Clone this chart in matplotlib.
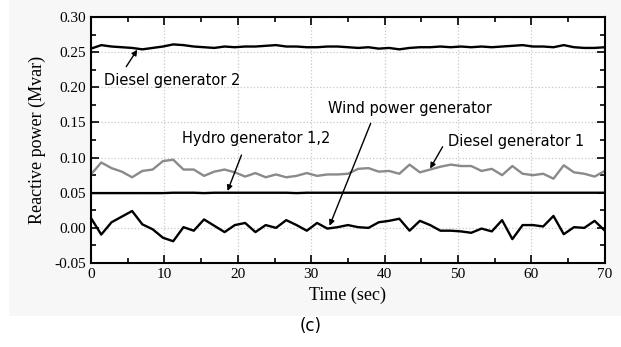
import numpy as np
import matplotlib.pyplot as plt
from matplotlib.patches import Rectangle
from matplotlib.ticker import MultipleLocator

# time samples (sec)
time = [0, 1.4, 2.8, 4.2, 5.6, 7.0, 8.4, 9.8, 11.2, 12.6, 14.0, 15.4, 16.8, 18.2,
        19.6, 21.0, 22.4, 23.8, 25.2, 26.6, 28.0, 29.4, 30.8, 32.2, 33.6, 35.0,
        36.4, 37.8, 39.2, 40.6, 42.0, 43.4, 44.8, 46.2, 47.6, 49.0, 50.4, 51.8,
        53.2, 54.6, 56.0, 57.4, 58.8, 60.2, 61.6, 63.0, 64.4, 65.8, 67.2, 68.6, 70.0]

diesel2 = [0.255, 0.260, 0.258, 0.257, 0.256, 0.254, 0.256, 0.258, 0.261, 0.260,
           0.258, 0.257, 0.256, 0.258, 0.257, 0.258, 0.258, 0.259, 0.260, 0.258,
           0.258, 0.257, 0.257, 0.258, 0.258, 0.257, 0.256, 0.257, 0.255, 0.256,
           0.254, 0.256, 0.257, 0.257, 0.258, 0.257, 0.258, 0.257, 0.258, 0.257,
           0.258, 0.259, 0.260, 0.258, 0.258, 0.257, 0.260, 0.257, 0.256, 0.256, 0.257]

diesel1 = [0.076, 0.093, 0.085, 0.080, 0.072, 0.081, 0.083, 0.095, 0.097, 0.083,
           0.083, 0.074, 0.080, 0.083, 0.079, 0.073, 0.078, 0.072, 0.076, 0.072,
           0.074, 0.078, 0.074, 0.076, 0.076, 0.077, 0.084, 0.085, 0.080, 0.081,
           0.077, 0.090, 0.079, 0.083, 0.087, 0.090, 0.088, 0.088, 0.081, 0.084,
           0.075, 0.088, 0.077, 0.075, 0.077, 0.070, 0.089, 0.079, 0.077, 0.073, 0.081]

hydro = [0.0495, 0.0495, 0.0495, 0.0495, 0.0495, 0.0495, 0.0495, 0.0495, 0.050, 0.050,
         0.050, 0.0495, 0.050, 0.050, 0.050, 0.050, 0.050, 0.050, 0.050, 0.050,
         0.0495, 0.050, 0.050, 0.050, 0.050, 0.050, 0.050, 0.050, 0.050, 0.050,
         0.050, 0.050, 0.050, 0.050, 0.050, 0.050, 0.050, 0.050, 0.050, 0.050,
         0.050, 0.050, 0.050, 0.050, 0.050, 0.050, 0.050, 0.050, 0.050, 0.050, 0.050]

wind = [0.014, -0.0095, 0.008, 0.016, 0.024, 0.005, -0.002, -0.014, -0.019, 0.001,
        -0.004, 0.012, 0.003, -0.006, 0.004, 0.007, -0.006, 0.004, 0.000, 0.011,
        0.004, -0.004, 0.007, -0.001, 0.001, 0.004, 0.001, 0.000, 0.008, 0.010,
        0.013, -0.004, 0.010, 0.004, -0.004, -0.004, -0.005, -0.007, -0.001, -0.005,
        0.011, -0.016, 0.004, 0.004, 0.002, 0.017, -0.009, 0.001, 0.000, 0.010, -0.004]

serif = 'Liberation Serif'
sans = 'DejaVu Sans'

fig = plt.figure(figsize=(6.21, 3.47), dpi=100)
fig.patches.append(Rectangle((0.015, 0.09), 0.985, 0.91, transform=fig.transFigure,
                             facecolor='#f7f7f7', edgecolor='none', zorder=-10))
ax = fig.add_axes([0.1465, 0.242, 0.8275, 0.709])
ax.set_facecolor('white')

ax.plot(time, diesel2, color='k', lw=1.7)
ax.plot(time, diesel1, color='#8a8a8a', lw=1.7)
ax.plot(time, hydro, color='k', lw=1.7)
ax.plot(time, wind, color='k', lw=1.7)

ax.set_xlim(0, 70)
ax.set_ylim(-0.05, 0.30)
ax.xaxis.set_major_locator(MultipleLocator(10))
ax.xaxis.set_minor_locator(MultipleLocator(5))
ax.yaxis.set_major_locator(MultipleLocator(0.05))
ax.yaxis.set_minor_locator(MultipleLocator(0.025))
ax.yaxis.set_major_formatter(plt.FuncFormatter(lambda v, p: '%.2f' % v))
ax.grid(True, which='major', color='#c8c8c8', linestyle=':', lw=0.9)
ax.tick_params(which='both', direction='in', top=True, right=True, width=1.2)
ax.tick_params(which='major', length=6, labelsize=11)
ax.tick_params(which='minor', length=3.5)
for lab in ax.get_xticklabels() + ax.get_yticklabels():
    lab.set_fontfamily(serif)
for s in ax.spines.values():
    s.set_linewidth(1.5)

ax.set_xlabel('Time (sec)', fontsize=13, family=serif, labelpad=4)
ax.set_ylabel('Reactive power (Mvar)', fontsize=13, family=serif, labelpad=6)

arrow = dict(arrowstyle='-|>', color='k', lw=1.0, mutation_scale=8, shrinkA=0, shrinkB=0)
ax.text(1.8, 0.209, 'Diesel generator 2', fontsize=10.5, family=sans, ha='left', va='center')
ax.annotate('', xy=(6.3, 0.2535), xytext=(4.8, 0.2293), arrowprops=arrow)
ax.text(22.5, 0.1278, 'Hydro generator 1,2', fontsize=10.5, family=sans, ha='center', va='center')
ax.annotate('', xy=(18.6, 0.0525), xytext=(20.5, 0.1036), arrowprops=arrow)
ax.text(43.5, 0.1705, 'Wind power generator', fontsize=10.5, family=sans, ha='center', va='center')
ax.annotate('', xy=(32.5, 0.003), xytext=(38.1, 0.1487), arrowprops=arrow)
ax.text(57.9, 0.1225, 'Diesel generator 1', fontsize=10.5, family=sans, ha='center', va='center')
ax.annotate('', xy=(46.2, 0.0845), xytext=(47.9, 0.1154), arrowprops=arrow)

fig.text(0.5, 0.06, '(c)', fontsize=12, family=sans, ha='center', va='center')

plt.savefig('out.png', dpi=100)
